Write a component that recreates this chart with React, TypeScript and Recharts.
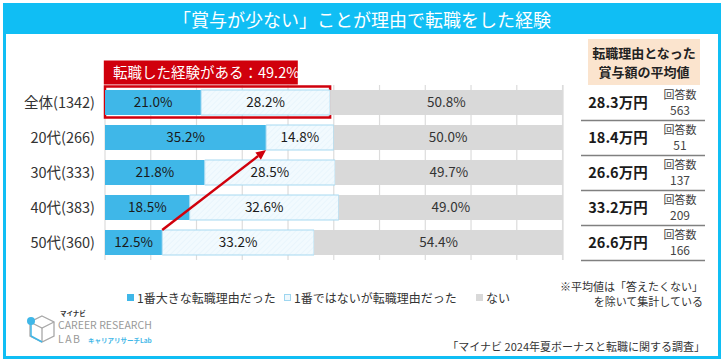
import React from 'react';
import { BarChart, Bar, XAxis, YAxis, CartesianGrid, LabelList, ReferenceLine, ReferenceArea, Legend } from 'recharts';

const categories = ['全体(1342)', '20代(266)', '30代(333)', '40代(383)', '50代(360)'];
const mainReason = [21.0, 35.2, 21.8, 18.5, 12.5];
const otherReason = [28.2, 14.8, 28.5, 32.6, 33.2];
const noReason = [50.8, 50.0, 49.7, 49.0, 54.4];
const avgBonus = ['28.3', '18.4', '26.6', '33.2', '26.6'];
const respondents = [563, 51, 137, 209, 166];
const seriesNames = ['1番大きな転職理由だった', '1番ではないが転職理由だった', 'ない'];
const xTicks = [0, 10, 20, 30, 40, 50, 60, 70, 80, 90, 100];

const data = categories.map((c, i) => ({
  cat: c,
  main: mainReason[i],
  other: otherReason[i],
  none: noReason[i],
}));

const FONT = '"Noto Sans CJK JP", "Noto Sans", sans-serif';
const BLUE = '#3FB7E8';
const RED = '#D0000C';
const CYAN = '#10BEF4';

const fmt = (v: any) => `${Number(v).toFixed(1)}%`;

const LeftTick = (props: any) => (
  <text x={props.x} y={props.y} dy={5} textAnchor="end" fontSize={14.5} fill="#333" fontFamily={FONT}>
    {props.payload.value}
  </text>
);

const RightTick = (props: any) => {
  const { x, y } = props;
  const i = categories.indexOf(props.payload.value);
  return (
    <g fontFamily={FONT}>
      <text x={x + 55} y={y} dy={5} textAnchor="middle" fontSize={14.5} fontWeight={700} fill="#1a1a1a">
        {avgBonus[i]}万円
      </text>
      <text x={x + 117} y={y - 7.5} dy={4} textAnchor="middle" fontSize={11} fill="#444">回答数</text>
      <text x={x + 117} y={y + 7.5} dy={4.5} textAnchor="middle" fontSize={12} fill="#444">{respondents[i]}</text>
      <line x1={x + 18} x2={x + 142} y1={y + 18} y2={y + 18} stroke="#808080" strokeWidth={1.3} />
    </g>
  );
};

const ArrowShape = (props: any) => {
  const { x1, y1, x2, y2 } = props;
  if ([x1, y1, x2, y2].some((v) => typeof v !== 'number' || isNaN(v))) return null;
  const sy = y1 - 12.5;
  const ey = y2 + 12.5;
  const ang = Math.atan2(ey - sy, x2 - x1);
  const L = 10, W = 4.5;
  const bx = x2 - L * Math.cos(ang);
  const by = ey - L * Math.sin(ang);
  const px = -Math.sin(ang) * W;
  const py = Math.cos(ang) * W;
  return (
    <g>
      <line x1={x1} y1={sy} x2={bx} y2={by} stroke={RED} strokeWidth={2.5} />
      <polygon points={`${x2},${ey} ${bx + px},${by + py} ${bx - px},${by - py}`} fill={RED} />
    </g>
  );
};

const totalExp = (mainReason[0] + otherReason[0]).toFixed(1);

const BoxShape = (props: any) => {
  const { x, y, width, height } = props;
  if ([x, y, width, height].some((v) => typeof v !== 'number' || isNaN(v))) return null;
  const cy = y + height / 2;
  return (
    <g>
      <rect x={x} y={cy - 16} width={width} height={31} fill="none" stroke={RED} strokeWidth={2.5} />
      <rect x={x - 1.2} y={cy - 42} width={194} height={24} fill={RED} />
      <text x={x + 8} y={cy - 30} dy={5} fontSize={14.5} fill="#fff" fontFamily={FONT}>
        転職した経験がある：{totalExp}%
      </text>
    </g>
  );
};

const LegendContent = () => {
  const items = [
    { name: seriesNames[0], fill: BLUE, stroke: BLUE, left: 3 },
    { name: seriesNames[1], fill: '#EEF8FD', stroke: '#9ED6F0', left: 160 },
    { name: seriesNames[2], fill: '#D9D9D9', stroke: '#D9D9D9', left: 352 },
  ];
  return (
    <div style={{ position: 'relative', height: 20, fontFamily: FONT, fontSize: 12, color: '#333', whiteSpace: 'nowrap' }}>
      {items.map((it, k) => (
        <div key={k} style={{ position: 'absolute', left: it.left, top: 0, height: 20, display: 'flex', alignItems: 'center' }}>
          <span style={{ display: 'inline-block', width: 5, height: 5, background: it.fill, border: `1px solid ${it.stroke}`, marginRight: 3 }} />
          <span>{it.name}</span>
        </div>
      ))}
    </div>
  );
};

const Logo = () => (
  <div style={{ position: 'absolute', left: 25, top: 310, width: 140, height: 38, fontFamily: FONT, lineHeight: 1 }}>
    <svg width={30} height={30} style={{ position: 'absolute', left: 0, top: 4 }}>
      <polygon points="17,2 29,8 29,22 17,28 5,22 5,8" fill="none" stroke="#A8A8A8" strokeWidth={1.3} />
      <polyline points="5,8 17,14 29,8" fill="none" stroke="#A8A8A8" strokeWidth={1.3} />
      <line x1={17} y1={14} x2={17} y2={28} stroke="#A8A8A8" strokeWidth={1.3} />
      <line x1={6} y1={7} x2={6} y2={22} stroke={BLUE} strokeWidth={1.5} />
      <line x1={6} y1={22} x2={17} y2={28} stroke={BLUE} strokeWidth={1.5} />
      <circle cx={6} cy={7} r={4} fill={BLUE} />
    </svg>
    <div style={{ position: 'absolute', left: 35, top: 0, fontSize: 6.5, fontWeight: 700, color: '#333' }}>マイナビ</div>
    <div style={{ position: 'absolute', left: 33, top: 10, fontSize: 10.5, color: '#999' }}>CAREER RESEARCH</div>
    <div style={{ position: 'absolute', left: 33, top: 24, fontSize: 10.5, color: '#999', letterSpacing: 1.5 }}>LAB</div>
    <div style={{ position: 'absolute', left: 63, top: 27, fontSize: 6.5, fontWeight: 700, color: BLUE }}>キャリアリサーチLab</div>
  </div>
);

export default function App() {
  return (
    <div style={{ position: 'absolute', left: 0, top: 0, width: 722, height: 361, background: '#fff', overflow: 'hidden', fontFamily: FONT }}>
      <div style={{ position: 'absolute', left: 3, top: 3, width: 712, height: 350, border: `3px solid ${CYAN}` }} />
      <div style={{ position: 'absolute', left: 3, top: 3, width: 718, height: 31, background: CYAN, color: '#fff', fontSize: 18, display: 'flex', alignItems: 'center', justifyContent: 'center' }}>
        「賞与が少ない」ことが理由で転職をした経験
      </div>
      <div style={{ position: 'absolute', left: 588, top: 39, width: 112, height: 46, background: '#FBE4CE', color: '#222', fontSize: 13, fontWeight: 700, textAlign: 'center', lineHeight: '19px', display: 'flex', flexDirection: 'column', justifyContent: 'center' }}>
        <div>転職理由となった</div>
        <div>賞与額の平均値</div>
      </div>
      <div style={{ position: 'absolute', left: 0, top: 0 }}>
        <BarChart
          width={722}
          height={361}
          data={data}
          layout="vertical"
          margin={{ top: 85, right: 0, bottom: 81, left: 0 }}
          barSize={25}
        >
          <defs>
            <pattern id="hatch" width="4" height="4" patternUnits="userSpaceOnUse" patternTransform="rotate(45)">
              <rect width="4" height="4" fill="#F2FAFE" />
              <line x1="0" y1="0" x2="0" y2="4" stroke="#E0F1FA" strokeWidth="1" />
            </pattern>
          </defs>
          <CartesianGrid horizontal={false} stroke="#DCDCDC" strokeWidth={1.2} />
          <XAxis type="number" domain={[0, 100]} ticks={xTicks} hide />
          <YAxis yAxisId="l" type="category" dataKey="cat" width={105} tickLine={false} axisLine={false} tickSize={0} tickMargin={10} tick={<LeftTick />} />
          <YAxis yAxisId="r" orientation="right" type="category" dataKey="cat" width={159} tickLine={false} axisLine={false} tickSize={0} tickMargin={0} tick={<RightTick />} />
          <Bar yAxisId="l" dataKey="main" name={seriesNames[0]} stackId="s" fill={BLUE} isAnimationActive={false}>
            <LabelList dataKey="main" position="center" formatter={fmt} fill="#1a1a1a" fontSize={13.5} fontFamily={FONT} />
          </Bar>
          <Bar yAxisId="l" dataKey="other" name={seriesNames[1]} stackId="s" fill="url(#hatch)" stroke="#A6D9F1" strokeWidth={1} isAnimationActive={false}>
            <LabelList dataKey="other" position="center" formatter={fmt} fill="#1a1a1a" fontSize={13.5} fontFamily={FONT} />
          </Bar>
          <Bar yAxisId="l" dataKey="none" name={seriesNames[2]} stackId="s" fill="#D9D9D9" isAnimationActive={false}>
            <LabelList dataKey="none" position="center" formatter={fmt} fill="#333" fontSize={13.5} fontFamily={FONT} />
          </Bar>
          <ReferenceArea yAxisId="l" x1={0} x2={mainReason[0] + otherReason[0]} y1={categories[0]} y2={categories[0]} ifOverflow="visible" shape={<BoxShape />} />
          <ReferenceLine
            yAxisId="l"
            segment={[{ x: mainReason[4], y: categories[4] }, { x: mainReason[1], y: categories[1] }]}
            ifOverflow="visible"
            shape={<ArrowShape />}
          />
          <Legend content={<LegendContent />} wrapperStyle={{ position: 'absolute', left: 124, top: 287, width: 420, height: 20 }} />
        </BarChart>
      </div>
      <div style={{ position: 'absolute', right: 19, top: 279, fontSize: 11, color: '#333', textAlign: 'right', lineHeight: '15px', whiteSpace: 'nowrap' }}>
        <div>※平均値は「答えたくない」</div>
        <div>を除いて集計している</div>
      </div>
      <div style={{ position: 'absolute', right: 17, top: 339, fontSize: 11, lineHeight: '14px', color: '#333', whiteSpace: 'nowrap' }}>
        「マイナビ 2024年夏ボーナスと転職に関する調査」
      </div>
      <Logo />
    </div>
  );
}
